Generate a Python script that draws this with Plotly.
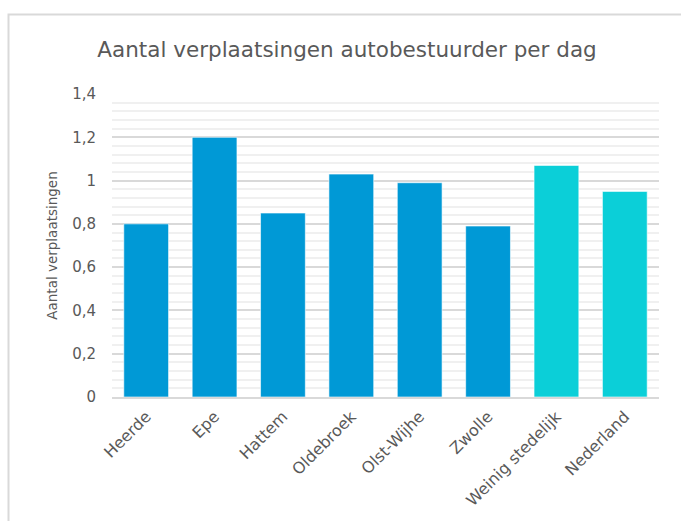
import plotly.graph_objects as go

categories = ["Heerde", "Epe", "Hattem", "Oldebroek", "Olst-Wijhe", "Zwolle", "Weinig stedelijk", "Nederland"]
values = [0.80, 1.20, 0.85, 1.03, 0.99, 0.79, 1.07, 0.95]
bar_colors = ["#0099D6"] * 6 + ["#0BCFD8"] * 2
y_ticks = [0, 0.2, 0.4, 0.6, 0.8, 1.0, 1.2, 1.4]
y_tick_labels = ["0", "0,2", "0,4", "0,6", "0,8", "1", "1,2", "1,4"]

W, H = 681, 521
L, R, T, B = 112, 22, 94, 124
pw, ph = W - L - R, H - T - B

def px_x(px):
    return (px - L) / pw

def px_y(py):
    return (H - B - py) / ph

FONT = "DejaVu Sans, Verdana, sans-serif"

fig = go.Figure(go.Bar(
    x=categories, y=values,
    marker=dict(color=bar_colors, line=dict(color="rgba(255,255,255,0.6)", width=1)),
    width=0.655,
))

fig.update_layout(
    width=W, height=H,
    margin=dict(l=L, r=R, t=T, b=B),
    paper_bgcolor="white", plot_bgcolor="white",
    font=dict(family=FONT, color="#595959", size=13),
    title=dict(text="Aantal verplaatsingen autobestuurder per dag",
               x=(347 / W), xanchor="center", xref="container",
               y=1 - 49 / H, yanchor="middle", yref="container",
               font=dict(family=FONT, size=21.5, color="#595959")),
    showlegend=False,
    xaxis=dict(tickangle=-45, showgrid=False, showline=True, linecolor="#D9D9D9", linewidth=2,
               ticks="", ticklabelstandoff=2, tickfont=dict(family=FONT, size=16, color="#595959")),
    yaxis=dict(range=[0, 1.4], tickvals=y_ticks, ticktext=y_tick_labels,
               showgrid=True, gridcolor="#D9D9D9", gridwidth=1.5,
               zeroline=False, showline=False, ticks="", ticklabelstandoff=15,
               tickfont=dict(family=FONT, size=15, color="#595959"),
               minor=dict(dtick=0.04, tick0=0, showgrid=True, gridcolor="#F0F0F0", gridwidth=1.5),
               title=dict(text="Aantal verplaatsingen", font=dict(family=FONT, size=13.5, color="#595959"), standoff=11)),
    shapes=[dict(type="path", xref="paper", yref="paper",
                 path=f"M {px_x(700)} {px_y(14.5)} L {px_x(8.5)} {px_y(14.5)} L {px_x(8.5)} {px_y(540)}",
                 line=dict(color="#D9D9D9", width=2))],
)

fig.write_html("out.html")
